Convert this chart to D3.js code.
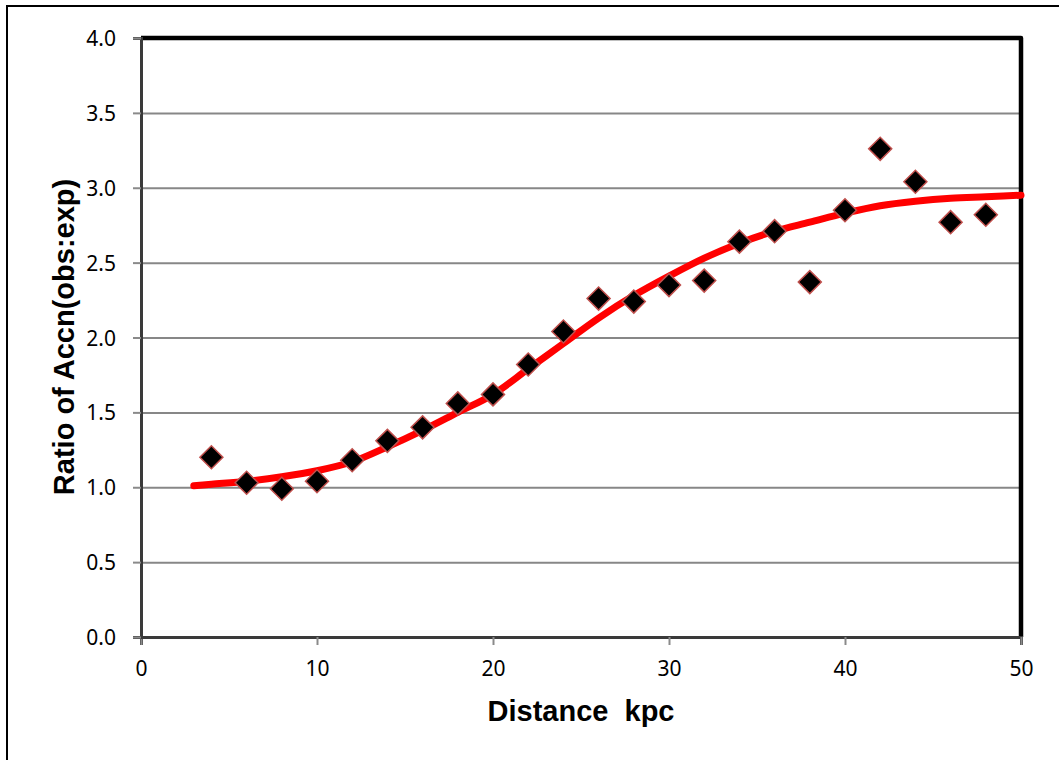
<!DOCTYPE html>
<html>
<head>
<meta charset="utf-8">
<script src="https://cdn.jsdelivr.net/npm/d3@7"></script>
<style>
    body { margin: 0; background: #fff; }
    #chart-area { width: 1059px; height: 760px; }
</style>
</head>
<body>
<div id="chart-area"></div>
<script>

// observed points
const distances = [4, 6, 8, 10, 12, 14, 16, 18, 20, 22, 24, 26, 28, 30, 32, 34, 36, 38, 40, 42, 44, 46, 48];
const ratios = [1.20, 1.03, 0.99, 1.04, 1.18, 1.31, 1.40, 1.56, 1.62, 1.82, 2.04, 2.26, 2.24, 2.35, 2.38, 2.64, 2.71, 2.37, 2.85, 3.26, 3.04, 2.77, 2.82];

// fitted curve
const fitDistances = [3, 4, 6, 8, 10, 12, 14, 16, 18, 20, 22, 24, 26, 28, 30, 32, 34, 36, 38, 40, 42, 44, 46, 48, 50];
const fitRatios = [1.01, 1.02, 1.04, 1.07, 1.11, 1.17, 1.27, 1.38, 1.50, 1.62, 1.79, 1.96, 2.13, 2.28, 2.41, 2.53, 2.63, 2.71, 2.77, 2.83, 2.88, 2.91, 2.93, 2.94, 2.95];

const xTicks = [0, 10, 20, 30, 40, 50];
const yTicks = [0, 0.5, 1.0, 1.5, 2.0, 2.5, 3.0, 3.5, 4.0];

const xTitle = "Distance  kpc";
const yTitle = "Ratio of Accn(obs:exp)";


class FitChart {

    constructor(parentElement) {
        this.parentElement = parentElement;
        this.points = distances.map((d, i) => ({x: d, y: ratios[i]}));
        this.fit = fitDistances.map((d, i) => ({x: d, y: fitRatios[i]}));
        this.initVis();
    }

    initVis() {
        let vis = this;

        vis.margin = {top: 38, right: 38, bottom: 123, left: 141};
        vis.width = 1059 - vis.margin.left - vis.margin.right;
        vis.height = 760 - vis.margin.top - vis.margin.bottom;

        vis.root = d3.select("#" + vis.parentElement).append("svg")
            .attr("width", 1059)
            .attr("height", 760);

        // outer chart frame (runs off the right and bottom of the picture)
        vis.root.append("rect")
            .attr("x", 7)
            .attr("y", 6)
            .attr("width", 1200)
            .attr("height", 900)
            .attr("fill", "none")
            .attr("stroke", "#000")
            .attr("stroke-width", 2);

        vis.svg = vis.root.append("g")
            .attr("transform", `translate(${vis.margin.left}, ${vis.margin.top})`);

        vis.x = d3.scaleLinear()
            .domain([0, 50])
            .range([0, vis.width]);
        vis.y = d3.scaleLinear()
            .domain([0, 4])
            .range([vis.height, 0]);

        vis.updateVis();
    }

    updateVis() {
        let vis = this;

        // gridlines
        vis.svg.append("g")
            .attr("class", "grid")
            .call(d3.axisLeft(vis.y).tickValues(yTicks).tickSize(-vis.width).tickFormat(""))
            .call(g => g.select(".domain").remove())
            .selectAll("line")
            .attr("stroke", "#878787")
            .attr("stroke-width", 2);

        // plot frame: heavy black on top and right
        vis.svg.append("path")
            .attr("d", `M0,0H${vis.width}V${vis.height}`)
            .attr("fill", "none")
            .attr("stroke", "#000")
            .attr("stroke-width", 4.5)
            .attr("stroke-linejoin", "round");

        // axes
        let xAxis = vis.svg.append("g")
            .attr("transform", `translate(0, ${vis.height})`)
            .call(d3.axisBottom(vis.x).tickValues(xTicks).tickSize(8).tickPadding(16).tickFormat(d3.format("d")));
        let yAxis = vis.svg.append("g")
            .call(d3.axisLeft(vis.y).tickValues(yTicks).tickSize(8).tickPadding(17).tickFormat(d3.format(".1f")));

        [xAxis, yAxis].forEach(ax => {
            ax.select(".domain").attr("stroke", "#3a3a3a").attr("stroke-width", 3);
            ax.selectAll(".tick line").attr("stroke", "#8a8a8a").attr("stroke-width", 2);
            ax.selectAll(".tick text")
                .attr("fill", "#000")
                .style("font-family", "'Noto Sans', sans-serif")
                .style("font-size", "21px");
        });
        yAxis.selectAll(".tick text").attr("dy", "0.36em");

        // fitted curve
        let line = d3.line()
            .x(d => vis.x(d.x))
            .y(d => vis.y(d.y))
            .curve(d3.curveMonotoneX);

        vis.svg.append("path")
            .datum(vis.fit)
            .attr("d", line)
            .attr("fill", "none")
            .attr("stroke", "#ff0000")
            .attr("stroke-width", 7)
            .attr("stroke-linecap", "round");

        // diamond markers
        let diamond = d3.symbol().type(d3.symbolSquare).size(265);

        vis.svg.selectAll(".point")
            .data(vis.points)
            .enter().append("path")
            .attr("class", "point")
            .attr("d", diamond)
            .attr("transform", d => `translate(${vis.x(d.x)}, ${vis.y(d.y)}) rotate(45)`)
            .attr("fill", "#000")
            .attr("stroke", "#c0504d")
            .attr("stroke-width", 1.5);

        // axis titles
        vis.svg.append("text")
            .attr("x", vis.x(25))
            .attr("y", vis.height + 84)
            .attr("text-anchor", "middle")
            .attr("xml:space", "preserve")
            .style("font-family", "'Liberation Sans', Arial, sans-serif")
            .style("font-weight", "bold")
            .style("font-size", "29px")
            .text(xTitle);

        vis.svg.append("text")
            .attr("transform", `translate(${74 - vis.margin.left}, ${337 - vis.margin.top}) rotate(-90)`)
            .attr("text-anchor", "middle")
            .style("font-family", "'Liberation Sans', Arial, sans-serif")
            .style("font-weight", "bold")
            .style("font-size", "29px")
            .text(yTitle);
    }
}

let fitChart = new FitChart("chart-area");

</script>
</body>
</html>
